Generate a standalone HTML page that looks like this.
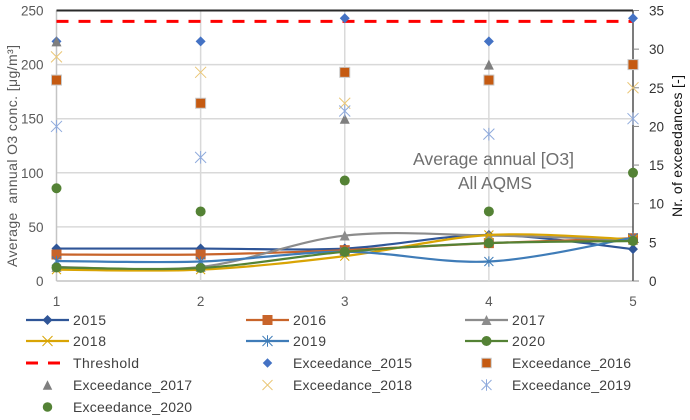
<!DOCTYPE html>
<html lang="en">
<head>
<meta charset="utf-8">
<title>Average annual O3 concentration</title>
<style>
html,body{margin:0;padding:0;background:#fff;width:690px;height:420px;overflow:hidden}
svg{display:block;font-family:"Liberation Sans",sans-serif}
</style>
</head>
<body>
<svg id="chart" width="690" height="420" viewBox="0 0 690 420" xmlns="http://www.w3.org/2000/svg">
  <rect width="690" height="420" fill="#fff"/>
  <g id="grid"></g>
  <g id="axes"></g>
  <g id="series"></g>
  <g id="points"></g>
  <text transform="translate(17,156) rotate(-90)" text-anchor="middle" font-size="14" fill="#595959" textLength="222" xml:space="preserve">Average  annual O3 conc. [μg/m³]</text>
  <text transform="translate(682,146) rotate(-90)" text-anchor="middle" font-size="14" fill="#111" textLength="142">Nr. of exceedances [-]</text>
  <text x="493.5" y="165" text-anchor="middle" font-size="17.5" fill="#6f6f6f" textLength="161" lengthAdjust="spacingAndGlyphs">Average annual [O3]</text>
  <text x="495" y="189" text-anchor="middle" font-size="17.5" fill="#6f6f6f" textLength="74" lengthAdjust="spacingAndGlyphs">All AQMS</text>
  <g id="legend"></g>
</svg>
<script>
const categories = [1, 2, 3, 4, 5];
const leftTicks = [0, 50, 100, 150, 200, 250];
const rightTicks = [0, 5, 10, 15, 20, 25, 30, 35];

const conc2015 = [30, 30, 30, 42.5, 29.5];
const conc2016 = [24.5, 24.5, 28.5, 35, 39.5];
const conc2017 = [13, 13, 42, 42, 38];
const conc2018 = [10.5, 10.5, 23, 42.5, 38.5];
const conc2019 = [18.5, 18, 27, 18, 40];
const conc2020 = [12.5, 12, 27, 35, 37];
const thresholdValues = [240, 240, 240, 240, 240];

const exceed2015 = [31, 31, 34, 31, 34];
const exceed2016 = [26, 23, 27, 26, 28];
const exceed2017 = [31, 23, 21, 28, 28];
const exceed2018 = [29, 27, 23, null, 25];
const exceed2019 = [20, 16, 22, 19, 21];
const exceed2020 = [12, 9, 13, 9, 14];

const lineNames = ['2015', '2016', '2017', '2018', '2019', '2020'];
const lineValues = [conc2015, conc2016, conc2017, conc2018, conc2019, conc2020];
const lineColors = ['#2f5597', '#c8642a', '#8c8c8c', '#d9a404', '#3f7cb8', '#548235'];
const lineMarkers = ['diamond', 'square', 'triangle', 'cross', 'star', 'circle'];

const pointNames = ['Exceedance_2015', 'Exceedance_2016', 'Exceedance_2017', 'Exceedance_2018', 'Exceedance_2019', 'Exceedance_2020'];
const pointValues = [exceed2015, exceed2016, exceed2017, exceed2018, exceed2019, exceed2020];
const pointColors = ['#4472c4', '#c55a11', '#7f7f7f', '#eac675', '#8faadc', '#548235'];
const pointDrawOrder = [0, 2, 1, 3, 4, 5];

const NS = 'http://www.w3.org/2000/svg';
const plot = { left: 56.5, right: 633, top: 10.5, bottom: 281 };
function xScale(c) { return plot.left + (c - 1) * (plot.right - plot.left) / 4; }
function yLeft(v) { return plot.bottom - v * (plot.bottom - plot.top) / 250; }
function yRight(v) { return plot.bottom - v * (plot.bottom - plot.top) / 35; }

function make(tag, attrs, parent) {
  const el = document.createElementNS(NS, tag);
  for (const k in attrs) el.setAttribute(k, attrs[k]);
  parent.appendChild(el);
  return el;
}

function smoothPath(pts) {
  let d = 'M' + pts[0][0] + ' ' + pts[0][1];
  for (let i = 0; i < pts.length - 1; i++) {
    const p0 = pts[Math.max(i - 1, 0)], p1 = pts[i], p2 = pts[i + 1], p3 = pts[Math.min(i + 2, pts.length - 1)];
    const c1x = p1[0] + (p2[0] - p0[0]) / 6, c1y = p1[1] + (p2[1] - p0[1]) / 6;
    const c2x = p2[0] - (p3[0] - p1[0]) / 6, c2y = p2[1] - (p3[1] - p1[1]) / 6;
    d += ' C' + c1x + ' ' + c1y + ' ' + c2x + ' ' + c2y + ' ' + p2[0] + ' ' + p2[1];
  }
  return d;
}

function drawMarker(kind, x, y, size, color, parent, thin) {
  const r = size / 2;
  let m;
  if (kind === 'diamond') {
    m = make('polygon', { points: [x, y - r, x + r, y, x, y + r, x - r, y].join(' '), fill: color }, parent);
  } else if (kind === 'square') {
    m = make('rect', { x: x - r, y: y - r, width: size, height: size, fill: color, stroke: thin ? '#c9c9c9' : 'none', 'stroke-width': thin ? 1 : 0 }, parent);
  } else if (kind === 'triangle') {
    m = make('polygon', { points: [x, y - r, x + r, y + r, x - r, y + r].join(' '), fill: color }, parent);
  } else if (kind === 'circle') {
    m = make('circle', { cx: x, cy: y, r: r, fill: color }, parent);
  } else {
    let d = 'M' + (x - r) + ' ' + (y - r) + 'L' + (x + r) + ' ' + (y + r) + 'M' + (x - r) + ' ' + (y + r) + 'L' + (x + r) + ' ' + (y - r);
    if (kind === 'star') d += 'M' + x + ' ' + (y - r * 1.15) + 'L' + x + ' ' + (y + r * 1.15);
    m = make('path', { d: d, fill: 'none', stroke: color, 'stroke-width': 1 }, parent);
  }
  return m;
}

const gridG = document.getElementById('grid');
const axesG = document.getElementById('axes');
const seriesG = document.getElementById('series');
const pointsG = document.getElementById('points');
const legendG = document.getElementById('legend');

leftTicks.forEach(function (t) {
  if (t !== 250) {
    const g = make('line', { x1: plot.left, x2: plot.right, y1: yLeft(t), y2: yLeft(t), stroke: t === 0 ? '#c4c4c4' : '#d9d9d9', 'stroke-width': 1.5 }, gridG);
    
    
  }
  const lab = make('text', { x: 43.5, y: yLeft(t) + 5, 'text-anchor': 'end', 'font-size': 13.5, fill: '#595959' }, axesG);
  lab.textContent = t;
  
  
});

categories.forEach(function (c) {
  if (c !== categories[categories.length - 1]) {
    const g = make('line', { x1: xScale(c), x2: xScale(c), y1: plot.top, y2: plot.bottom, stroke: c === 1 ? '#c4c4c4' : '#d9d9d9', 'stroke-width': 1.5 }, gridG);
    
    
  }
  const lab = make('text', { x: xScale(c), y: 306, 'text-anchor': 'middle', 'font-size': 13.5, fill: '#595959' }, axesG);
  lab.textContent = c;
  
  
});

const topLine = make('line', { x1: plot.left, x2: plot.right, y1: plot.top, y2: plot.top, stroke: '#2a2a2a', 'stroke-width': 2 }, axesG);


const rightLine = make('line', { x1: plot.right, x2: plot.right, y1: plot.top, y2: plot.bottom, stroke: '#444', 'stroke-width': 1.4 }, axesG);



rightTicks.forEach(function (t) {
  const tick = make('line', { x1: plot.right, x2: plot.right + 6, y1: yRight(t), y2: yRight(t), stroke: '#888', 'stroke-width': 1 }, axesG);
  
  
  const lab = make('text', { x: 649, y: yRight(t) + 5, 'font-size': 13.5, fill: '#333' }, axesG);
  lab.textContent = t;
  
  
});

lineValues.forEach(function (vals, i) {
  const pts = vals.map(function (v, j) { return [xScale(categories[j]), yLeft(v)]; });
  const path = make('path', { d: smoothPath(pts), fill: 'none', stroke: lineColors[i], 'stroke-width': 2.2 }, seriesG);
  
  
  pts.forEach(function (p, j) {
    const kind = lineMarkers[i];
    const size = (kind === 'cross' || kind === 'star') ? 9 : 10;
    const m = drawMarker(kind, p[0], p[1], size, lineColors[i], seriesG, false);
    
    
  });
});

const thresholdPath = make('path', {
  d: 'M' + thresholdValues.map(function (v, j) { return xScale(categories[j]) + ' ' + yLeft(v); }).join('L'),
  fill: 'none', stroke: '#ff0000', 'stroke-width': 3, 'stroke-dasharray': '12 10'
}, seriesG);



pointDrawOrder.forEach(function (i) {
  const vals = pointValues[i];
  const kind = lineMarkers[i];
  const size = kind === 'cross' || kind === 'star' ? 11 : 10;
  vals.forEach(function (v, j) {
    if (v === null) return;
    const m = drawMarker(kind, xScale(categories[j]), yRight(v), size, pointColors[i], pointsG, kind === 'square');
    
    
  });
});

const legendLabels = lineNames.concat(['Threshold'], pointNames);
const legendColX = [26, 246, 465];
const legendRowY = [320, 341, 363, 385, 407];
legendLabels.forEach(function (name, i) {
  const col = i % 3, row = Math.floor(i / 3);
  const x0 = legendColX[col], y = legendRowY[row];
  const g = make('g', {}, legendG);
  
  
  if (i < 6) {
    make('line', { x1: x0, x2: x0 + 43, y1: y, y2: y, stroke: lineColors[i], 'stroke-width': 2.2 }, g);
    drawMarker(lineMarkers[i], x0 + 21.5, y, 10, lineColors[i], g, false);
  } else if (i === 6) {
    make('line', { x1: x0, x2: x0 + 34, y1: y, y2: y, stroke: '#ff0000', 'stroke-width': 3, 'stroke-dasharray': '12 10' }, g);
  } else {
    const k = i - 7;
    const kind = lineMarkers[k];
    const size = kind === 'cross' || kind === 'star' ? 10 : 9.5;
    drawMarker(kind, x0 + 21.5, y, size, pointColors[k], g, kind === 'square');
  }
  const t = make('text', { x: x0 + 47, y: y + 5, 'font-size': 14, fill: '#404040' }, g);
  t.textContent = name;
  if (i < 6) t.setAttribute('textLength', 33);
  else if (i === 6) t.setAttribute('textLength', 66);
  else t.setAttribute('textLength', 119);
});
</script>
</body>
</html>
